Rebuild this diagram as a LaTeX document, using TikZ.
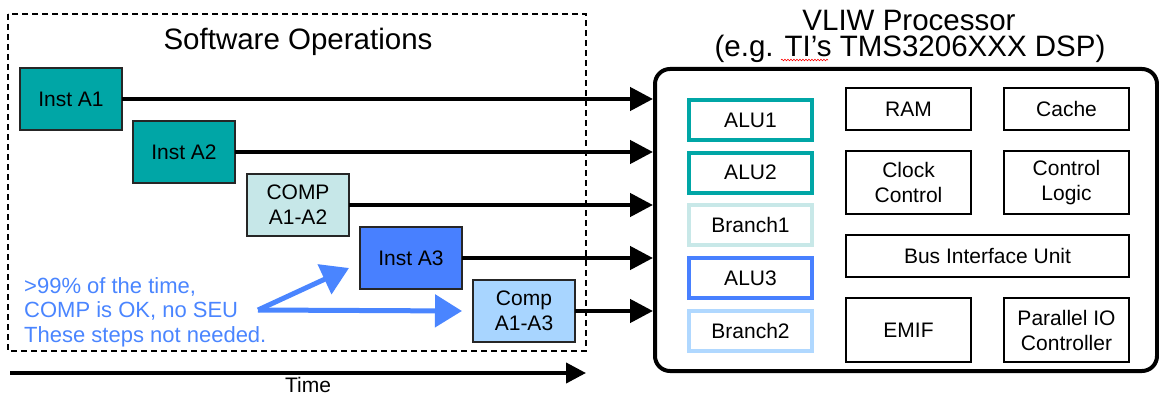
\documentclass[tikz,border=0pt]{standalone}
\usepackage{fontspec}
\setmainfont{Liberation Sans}
\usetikzlibrary{arrows.meta,decorations.pathmorphing}
\definecolor{tealc}{RGB}{0,166,166}
\definecolor{lteal}{RGB}{198,231,232}
\definecolor{bluec}{RGB}{72,128,255}
\definecolor{lblue}{RGB}{168,213,255}
\definecolor{notec}{RGB}{74,133,255}
\definecolor{brone}{RGB}{200,232,232}
\definecolor{brtwo}{RGB}{176,216,255}
\begin{document}
\begin{tikzpicture}[x=1pt,y=-1pt,
  lbl/.style={font=\fontsize{21}{25}\selectfont, align=center},
  inst/.style={draw=black!85, line width=1.5pt, minimum width=102pt, minimum height=62pt, inner sep=0pt, outer sep=0pt, lbl},
  unitbox/.style={draw, line width=4pt, fill=white, minimum width=123pt, minimum height=40pt, inner sep=0pt, lbl},
  blk/.style={draw, line width=1.5pt, minimum width=125pt, inner sep=0pt, lbl},
  flow/.style={line width=4.5pt, -{Triangle[length=23pt,width=23pt]}},
  note/.style={line width=5pt, draw=notec, -{Triangle[length=27pt,width=32pt]}},
  title/.style={font=\fontsize{29.5}{33}\selectfont, inner sep=0pt}]
\useasboundingbox (0,0) rectangle (1159,396);

% software frame
\draw[line width=1.2pt, dash pattern=on 6pt off 4pt] (8,14) rectangle (586,351);
\node[title] (swt) at (298,42) {Software Operations};

% processor
\node[draw, line width=4pt, rounded corners=15pt, minimum width=502pt, minimum height=302pt, inner sep=0pt] (proc) at (906,220) {};
\node[title] (pt1) at (909,20) {VLIW Processor};
\node[title] (pt2) at (910,49) {(e.g. TI’s TMS3206XXX DSP)};
\draw[red, line width=0.6pt, decorate, decoration={snake, amplitude=0.8pt, segment length=3pt}] (781,60) -- (828,60);

% instruction boxes
\node[inst, fill=tealc] (a1) at (71,99) {Inst A1};
\node[inst, fill=tealc] (a2) at (184,152) {Inst A2};
\node[inst, fill=lteal] (c12) at (298,205) {COMP\\A1-A2};
\node[inst, fill=bluec] (a3) at (411,258) {Inst A3};
\node[inst, fill=lblue] (c13) at (524,311) {Comp\\A1-A3};

% arrows to processor
\foreach \n in {a1,a2,c12,a3,c13}
  \draw[flow] (\n.east) -- (\n.east -| proc.west);

% processor units
\node[unitbox, draw=tealc] (alu1) at (750.5,120) {ALU1};
\node[unitbox, draw=tealc] (alu2) at (750.5,172.5) {ALU2};
\node[unitbox, draw=brone] (br1) at (750.5,225) {Branch1};
\node[unitbox, draw=bluec] (alu3) at (750.5,278) {ALU3};
\node[unitbox, draw=brtwo] (br2) at (750.5,330.5) {Branch2};

\node[blk, minimum height=42pt] (ram) at (908.5,109) {RAM};
\node[blk, minimum height=42pt] (cache) at (1066.5,109) {Cache};
\node[blk, minimum height=63pt] (clk) at (908.5,182.5) {Clock\\Control};
\node[blk, minimum height=63pt] (ctl) at (1066.5,182.5) {Control\\Logic};
\node[blk, minimum height=42pt, minimum width=283pt] (biu) at (987.5,256) {Bus Interface Unit};
\node[blk, minimum height=64pt] (emif) at (908.5,330) {EMIF};
\node[blk, minimum height=64pt] (pio) at (1066.5,330) {Parallel IO\\Controller};

% note
\node[lbl, text=notec, align=left, anchor=west, font=\fontsize{22}{24.5}\selectfont, inner sep=0pt] (txt) at (24,312)
  {>99\% of the time,\\COMP is OK, no SEU\\These steps not needed.};
\coordinate (ns) at (258,310);
\coordinate (nt1) at (349,268);
\coordinate (nt2) at ([xshift=-11pt]c13.west);
\draw[note] (ns) -- (nt1);
\draw[note] (ns) -- (nt2);

% time axis
\coordinate (t0) at (10,373);
\coordinate (t1) at (586,373);
\draw[line width=4pt, -{Triangle[length=20pt,width=20pt]}] (t0) -- (t1);
\node[lbl, inner sep=0pt, anchor=base] (time) at (308,392) {Time};
\end{tikzpicture}
\end{document}
